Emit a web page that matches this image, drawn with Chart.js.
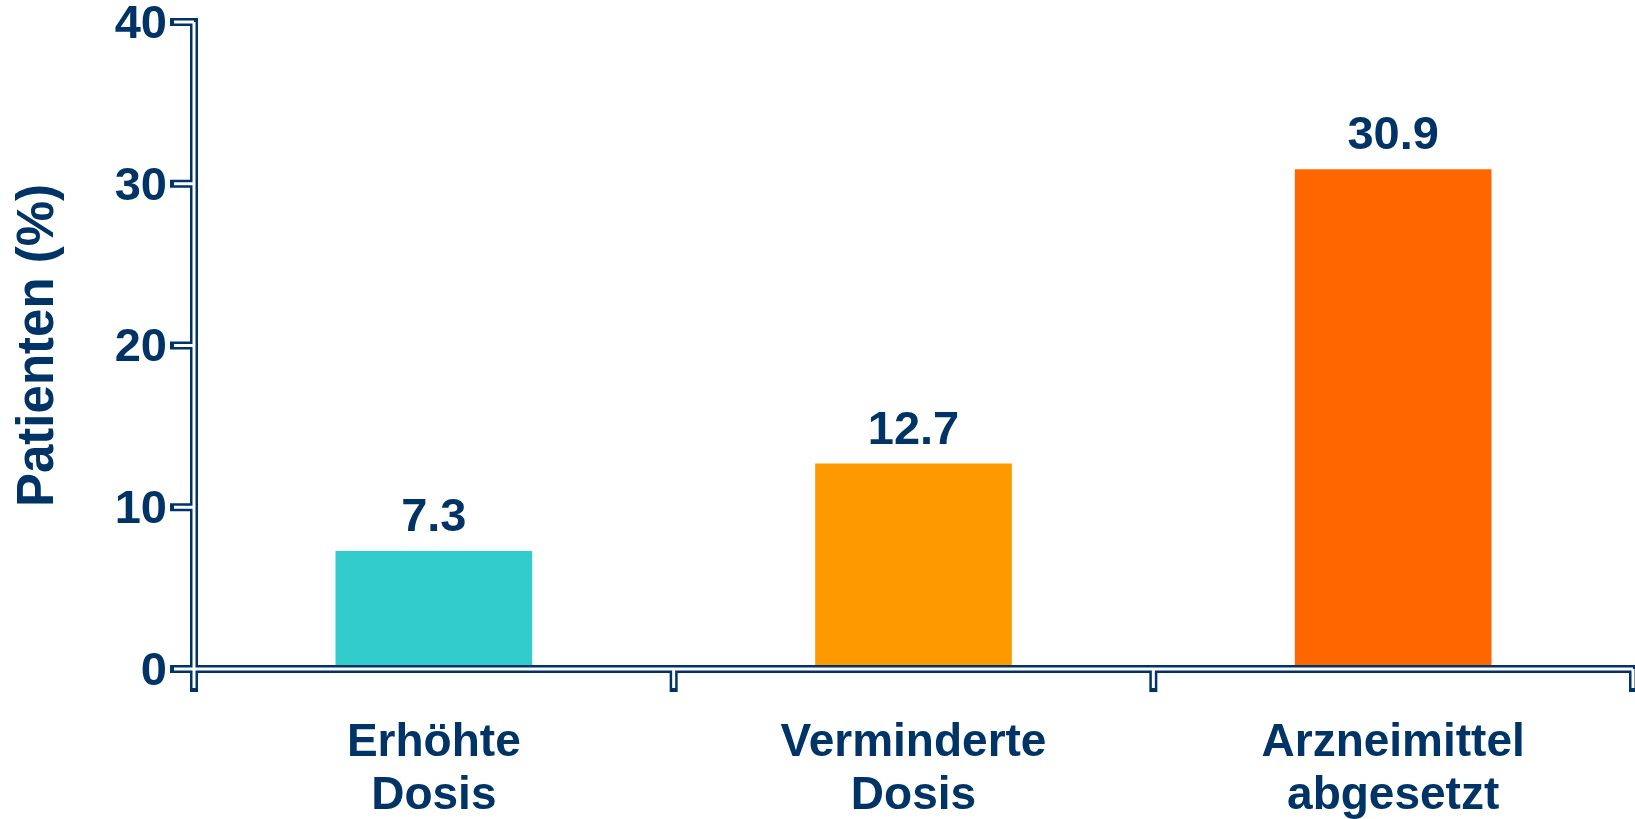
<!DOCTYPE html>
<html>
<head>
<meta charset="utf-8">
<script src="https://cdn.jsdelivr.net/npm/chart.js@4"></script>
<style>
  html, body { margin: 0; padding: 0; background: #fff; }
  #wrap { width: 1635px; height: 819px; }
</style>
</head>
<body>
<div id="wrap"><canvas id="myChart"></canvas></div>
<script>
const categories = [['Erhöhte', 'Dosis'], ['Verminderte', 'Dosis'], ['Arzneimittel', 'abgesetzt']];
const values = [7.3, 12.7, 30.9];
const barColors = ['#33CCCC', '#FF9900', '#FF6600'];
const yTicks = [0, 10, 20, 30, 40];
const navy = '#003366';
const fontFamily = '"Liberation Sans", Arial, sans-serif';

// Achsen als Doppellinie (dunkel außen, weiß innen)
const axisPlugin = {
  id: 'doubleAxes',
  afterDatasetsDraw(chart) {
    const { ctx, chartArea: a, scales: { x, y } } = chart;
    const path = () => {
      ctx.beginPath();
      ctx.moveTo(a.left, y.getPixelForValue(yTicks[yTicks.length - 1]));
      ctx.lineTo(a.left, a.bottom + 19);
      ctx.moveTo(a.left, a.bottom);
      ctx.lineTo(a.right, a.bottom);
      yTicks.forEach(v => {
        const py = y.getPixelForValue(v);
        ctx.moveTo(a.left - 20, py);
        ctx.lineTo(a.left, py);
      });
      for (let i = 1; i <= categories.length; i++) {
        const px = x.getPixelForValue(i - 0.5);
        ctx.moveTo(px, a.bottom);
        ctx.lineTo(px, a.bottom + 19);
      }
    };
    ctx.save();
    path();
    ctx.strokeStyle = navy;
    ctx.lineWidth = 8;
    ctx.lineCap = 'square';
    ctx.stroke();
    path();
    ctx.strokeStyle = '#fff';
    ctx.lineWidth = 3;
    ctx.lineCap = 'butt';
    ctx.stroke();
    ctx.restore();
  }
};

// Werte über den Balken
const valuePlugin = {
  id: 'valueLabels',
  afterDatasetsDraw(chart) {
    const { ctx } = chart;
    ctx.save();
    ctx.fillStyle = navy;
    ctx.font = 'bold 47px ' + fontFamily;
    ctx.textAlign = 'center';
    ctx.textBaseline = 'alphabetic';
    chart.getDatasetMeta(0).data.forEach((bar, i) => {
      ctx.fillText(values[i].toFixed(1), bar.x, bar.y - 20);
    });
    ctx.restore();
  }
};

const ctx = document.getElementById('myChart').getContext('2d');
new Chart(ctx, {
  type: 'bar',
  data: {
    labels: categories,
    datasets: [{
      data: values,
      backgroundColor: barColors,
      barPercentage: 0.41,
      categoryPercentage: 1
    }]
  },
  options: {
    responsive: true,
    maintainAspectRatio: false,
    animation: false,
    layout: { padding: { top: 22, right: 2, left: 0, bottom: 0 } },
    plugins: { legend: { display: false }, tooltip: { enabled: false } },
    scales: {
      x: {
        grid: { display: false, drawTicks: true, tickLength: 47 },
        border: { display: false },
        ticks: {
          color: navy,
          padding: 0,
          font: { family: fontFamily, size: 46, weight: 'bold', lineHeight: 1.17 },
          maxRotation: 0
        },
        afterFit(scale) { scale.height = 150; }
      },
      y: {
        min: 0,
        max: 40,
        grid: { display: false, drawTicks: true, tickLength: 27 },
        border: { display: false },
        ticks: {
          stepSize: 10,
          color: navy,
          padding: 0,
          labelOffset: 3,
          font: { family: fontFamily, size: 47, weight: 'bold', lineHeight: 0.8 }
        },
        title: {
          display: true,
          text: 'Patienten (%)',
          color: navy,
          padding: { top: 8, bottom: 0 },
          font: { family: fontFamily, size: 51, weight: 'bold', lineHeight: 1.2 }
        },
        afterFit(scale) { scale.width = 194; }
      }
    }
  },
  plugins: [axisPlugin, valuePlugin]
});
</script>
</body>
</html>
